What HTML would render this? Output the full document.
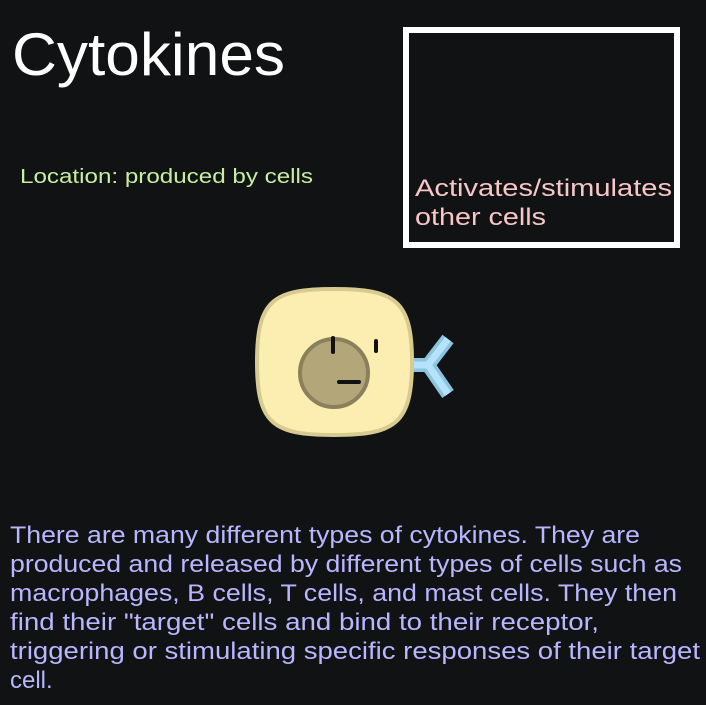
<!DOCTYPE html>
<html><head><meta charset="utf-8"><style>
html,body{margin:0;padding:0;background:#111214;width:706px;height:705px;overflow:hidden}
svg{display:block}
text{font-family:"Liberation Sans",sans-serif}
</style></head><body>
<svg width="706" height="705" viewBox="0 0 706 705">
<rect x="0" y="0" width="706" height="705" fill="#111214"/>
<text x="12" y="75" font-size="60" fill="#ffffff" textLength="273" lengthAdjust="spacingAndGlyphs">Cytokines</text>
<text x="20" y="183" font-size="20" fill="#c6eea0" textLength="293" lengthAdjust="spacingAndGlyphs">Location: produced by cells</text>
<rect x="406" y="30" width="271" height="215" fill="none" stroke="#ffffff" stroke-width="6"/>
<text x="415" y="196" font-size="24" fill="#f7c6c6" textLength="257" lengthAdjust="spacingAndGlyphs">Activates/stimulates</text>
<text x="415" y="225" font-size="24" fill="#f7c6c6" textLength="131" lengthAdjust="spacingAndGlyphs">other cells</text>
<g>
<path d="M410 365 L428 365 L448 339 M428 365 L448 394" fill="none" stroke="#8ec3e0" stroke-width="14"/>
<path d="M410 365 L428 365 L448 339 M428 365 L448 394" fill="none" stroke="#b5e3fb" stroke-width="7"/>
<path d="M334 289 C395 289 412 300 412 362 C412 424 395 435 334 435 C273 435 257 424 257 362 C257 300 273 289 334 289 Z" fill="#fcedb0" stroke="#d8cb92" stroke-width="4"/>
<circle cx="334" cy="373" r="34" fill="#b3a77a" stroke="#8a805c" stroke-width="4"/>
<line x1="333" y1="338" x2="333" y2="352" stroke="#111" stroke-width="4" stroke-linecap="round"/>
<line x1="376" y1="341" x2="376" y2="351" stroke="#111" stroke-width="4" stroke-linecap="round"/>
<line x1="339" y1="382" x2="359" y2="382" stroke="#111" stroke-width="4" stroke-linecap="round"/>
</g>
<g fill="#b8b6ff" font-size="24">
<text x="10" y="543" textLength="630" lengthAdjust="spacingAndGlyphs">There are many different types of cytokines. They are</text>
<text x="10" y="572" textLength="672" lengthAdjust="spacingAndGlyphs">produced and released by different types of cells such as</text>
<text x="10" y="601" textLength="667" lengthAdjust="spacingAndGlyphs">macrophages, B cells, T cells, and mast cells. They then</text>
<text x="10" y="630" textLength="589" lengthAdjust="spacingAndGlyphs">find their "target" cells and bind to their receptor,</text>
<text x="10" y="659" textLength="690" lengthAdjust="spacingAndGlyphs">triggering or stimulating specific responses of their target</text>
<text x="10" y="688">cell.</text>
</g>
</svg>
</body></html>
